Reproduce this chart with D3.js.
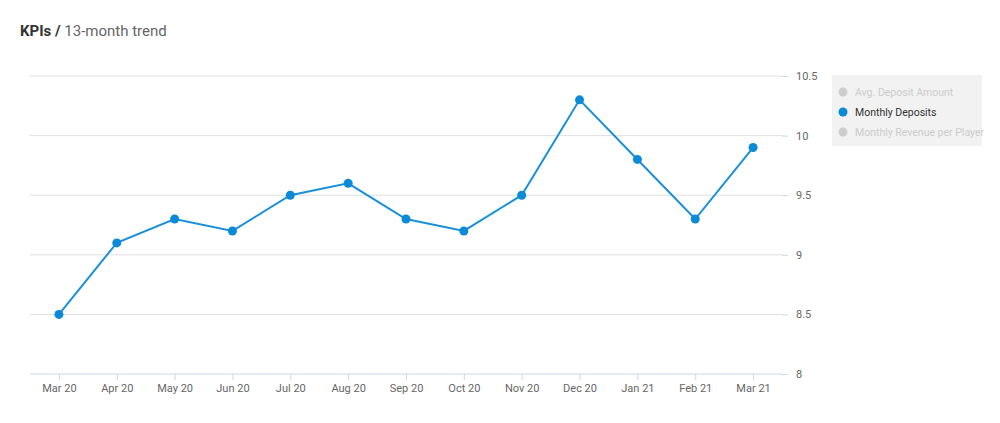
<!DOCTYPE html>
<html><head><meta charset="utf-8">
<script src="https://cdn.jsdelivr.net/npm/d3@7"></script>
<style>body{margin:0;background:#fff;font-family:Roboto,sans-serif}</style>
</head><body><svg id="c" width="1000" height="423"></svg>
<script>
const months=["Mar 20","Apr 20","May 20","Jun 20","Jul 20","Aug 20","Sep 20","Oct 20","Nov 20","Dec 20","Jan 21","Feb 21","Mar 21"];
const deposits=[8.5,9.1,9.3,9.2,9.5,9.6,9.3,9.2,9.5,10.3,9.8,9.3,9.9];
const yTicks=[8,8.5,9,9.5,10,10.5];
const legendItems=["Avg. Deposit Amount","Monthly Deposits","Monthly Revenue per Player"];
const svg=d3.select("#c");
const x=d3.scalePoint().domain(months).range([30,782]).padding(0.5);
const y=d3.scaleLinear().domain([8,10.5]).range([374,76]);
const t=svg.append("text").attr("x",20).attr("y",36).attr("font-size",15).attr("fill","#666");
t.append("tspan").attr("font-weight","bold").attr("fill","#333").text("KPIs / ");
t.append("tspan").text("13-month trend");
svg.append("g").selectAll("line").data(yTicks.slice(1)).join("line")
 .attr("x1",30).attr("x2",782).attr("y1",d=>y(d)).attr("y2",d=>y(d)).attr("stroke","#e0e0e0");
const ya=svg.append("g").attr("transform","translate(782,0)").call(d3.axisRight(y).tickValues(yTicks).tickFormat(d3.format("")).tickSize(6).tickPadding(8));
ya.select(".domain").remove();
ya.selectAll("line").attr("stroke","#ccd6eb");
ya.selectAll("text").attr("fill","#666").attr("font-size",11).attr("font-family","Roboto");
const xa=svg.append("g").attr("transform","translate(0,374)").call(d3.axisBottom(x).tickSize(6).tickPadding(4));
xa.select(".domain").attr("stroke","#ccd6eb").attr("d","M30,0H782");
xa.selectAll("line").attr("stroke","#ccd6eb");
xa.selectAll("text").attr("fill","#666").attr("font-size",11).attr("font-family","Roboto");
svg.append("path").datum(deposits).attr("fill","none").attr("stroke","#1a90d9").attr("stroke-width",2)
 .attr("d",d3.line().x((d,i)=>x(months[i])).y(d=>y(d)));
svg.append("g").selectAll("circle").data(deposits).join("circle")
 .attr("cx",(d,i)=>x(months[i])).attr("cy",d=>y(d)).attr("r",4.5).attr("fill","#0b8ad8");
const lg=svg.append("g");
lg.append("rect").attr("x",832).attr("y",75).attr("width",150).attr("height",71).attr("fill","#f2f2f2");
legendItems.forEach((n,i)=>{
 const on=i===1;
 lg.append("circle").attr("cx",843).attr("cy",92+i*20).attr("r",4.5).attr("fill",on?"#0b8ad8":"#ccc");
 lg.append("text").attr("x",855).attr("y",96+i*20).attr("font-size",10.5).attr("fill",on?"#333":"#ccc").text(n);
});
</script></body></html>
